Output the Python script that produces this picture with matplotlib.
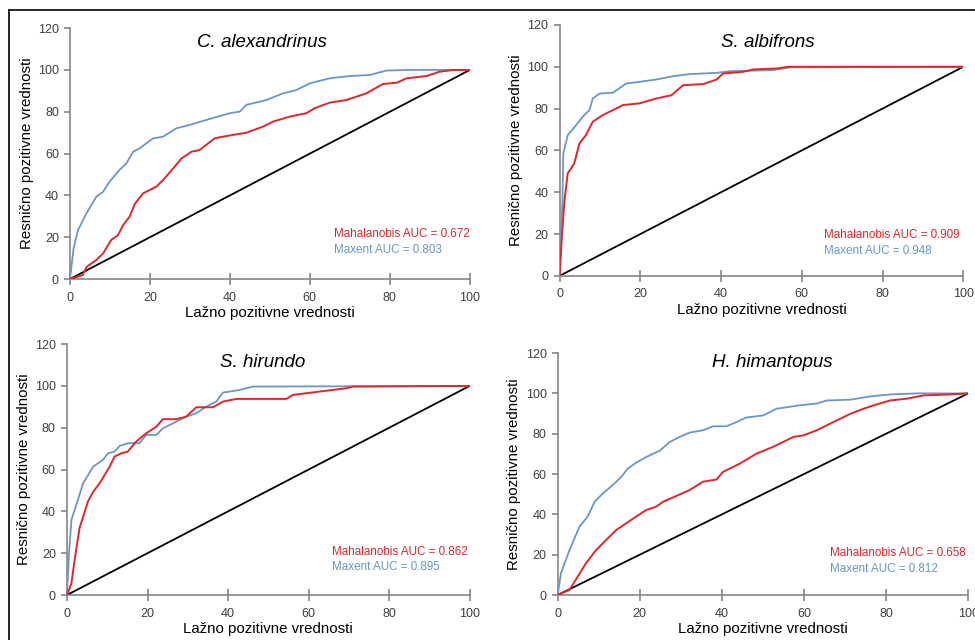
import matplotlib.pyplot as plt
from matplotlib.lines import Line2D

# podaci ocitani sa ROC krivih (x = lazno pozitivne, y = resnicno pozitivne)
diag = [0, 100]

calex_maxent_x = [0, 0.9, 2, 4.1, 6.6, 8.3, 9.9, 12.4, 14.1, 15.8, 17.4, 20.8, 23.3, 26.6, 29.9, 34.1,
                  39.9, 42.5, 44.1, 49.1, 53.3, 56.6, 60, 64.9, 69.9, 75, 79.1, 84.1, 100]
calex_maxent_y = [0, 14.7, 23.4, 31.4, 39.4, 41.8, 46.6, 52.2, 55.3, 60.9, 62.5, 67.3, 68.1, 72.1, 73.7, 76.1,
                  79.3, 80.1, 83.3, 85.6, 88.8, 90.4, 93.6, 96, 97.1, 97.6, 99.7, 100, 100]
calex_mahal_x = [0, 3.2, 4.2, 6.6, 8.3, 10.3, 12, 13.3, 14.9, 16.2, 18.3, 21.6, 23.3, 25.8, 27.9, 30.4, 32.4,
                 36.2, 39.1, 44.1, 48.3, 50.8, 55, 59.1, 61.2, 65, 69.1, 74.1, 78.3, 81.7, 84.2, 89.2, 92.5, 95.8, 100]
calex_mahal_y = [0, 1.9, 5.9, 9.1, 12.3, 18.7, 21, 25.8, 29.8, 35.9, 41, 44.2, 47.4, 52.9, 57.7, 60.9, 61.7,
                 67.3, 68.4, 70, 72.9, 75.3, 77.7, 79.3, 81.7, 84.4, 85.6, 88.8, 93.3, 93.9, 96, 97.1, 99.2, 100, 100]

salb_maxent_x = [0, 0.3, 0.7, 0.9, 2, 4.1, 5.7, 7.4, 8.2, 9.9, 13.2, 16.5, 19.8, 23.9, 28.1, 32.2, 38.9,
                 42.2, 47.1, 52.9, 57.1, 100]
salb_maxent_y = [0, 20.3, 36.2, 58.5, 67.3, 72.1, 76.1, 79.3, 84.8, 87.2, 87.6, 92, 92.8, 93.9, 95.5, 96.5, 97.1,
                 97.9, 98.1, 98.4, 99.7, 100]
salb_mahal_x = [0, 0.6, 1.2, 2, 3.6, 4.9, 6.5, 8.2, 10.7, 13.2, 15.7, 19.8, 23.9, 27.7, 30.6, 35.5, 38.9,
                40.5, 45.5, 47.9, 53.8, 56.7, 100]
salb_mahal_y = [0, 20.3, 36.2, 49, 53.7, 63.3, 67.3, 73.7, 76.9, 79.3, 81.7, 82.5, 84.8, 86.4, 91.2, 91.7, 93.9,
                96.8, 97.6, 98.7, 99.2, 100, 100]

shir_maxent_x = [0, 0.5, 1.1, 2.3, 4, 6.5, 8.9, 10.2, 11.8, 13.1, 15.1, 18, 19.7, 22.2, 23.8, 26.3, 29.6,
                 32.1, 34.6, 37.1, 38.7, 42.9, 46.2, 100]
shir_maxent_y = [0, 19.9, 35.9, 43.1, 53.4, 61.4, 64.6, 67.8, 68.6, 71.3, 72.6, 72.6, 76.6, 76.6, 79.7, 82.1, 85.3,
                 86.9, 90.1, 92.5, 96.8, 98.1, 99.7, 100]
shir_mahal_x = [0, 1.1, 1.9, 3.1, 5.2, 6.5, 8.1, 10.6, 11.8, 13.5, 15.1, 17.2, 19.7, 22.2, 23.8, 27.2, 29.6,
                32.1, 36.3, 38.7, 42.1, 54.5, 56.1, 62.7, 69.4, 71, 100]
shir_mahal_y = [0, 5.6, 16.7, 31.9, 44.7, 49.4, 53.4, 61.4, 66.2, 67.8, 68.6, 73.4, 77.4, 80.5, 84.1, 84.1, 85.3,
                89.8, 89.8, 92.5, 93.8, 93.8, 95.7, 97.3, 98.9, 99.7, 100]

hhim_maxent_x = [0, 0.8, 2.9, 5.3, 7.3, 9, 11, 13.4, 15.5, 17.1, 19.1, 21.6, 24.8, 27.3, 29.7, 32.2, 35.4,
                 37.9, 41.1, 43.6, 45.9, 50.1, 53.3, 59, 63.1, 65.6, 71.3, 76.1, 81, 87.5, 100]
hhim_maxent_y = [0, 10.9, 22.4, 33.9, 38.9, 46.3, 50.4, 54.5, 58.6, 62.8, 65.6, 68.5, 71.5, 75.9, 78.4, 80.6, 81.7,
                 83.7, 83.7, 85.8, 88, 89.1, 92.4, 94.1, 95, 96.5, 96.9, 98.5, 99.5, 100, 100]
hhim_mahal_x = [0, 2.9, 4.9, 6.9, 9.4, 11.8, 14.3, 16.7, 19.1, 21.6, 24, 25.7, 28.1, 32.2, 35.4, 38.7, 40.3,
                44.4, 48.5, 52.5, 54.9, 57.4, 59.9, 63.1, 67.2, 71.3, 74.5, 77.8, 81, 85.1, 89.1, 95.7, 100]
hhim_mahal_y = [0, 2.6, 9.2, 15.8, 22.4, 27.3, 32.3, 35.6, 38.9, 42.2, 43.8, 46.3, 48.4, 52.1, 56.2, 57.3, 61.1,
                65.2, 70.2, 73.5, 75.9, 78.4, 79.2, 81.7, 85.8, 89.9, 92.4, 94.6, 96.5, 97.4, 99, 99.5, 100]

naslovi = ['C. alexandrinus', 'S. albifrons', 'S. hirundo', 'H. himantopus']
auc_mahal = ['0.672', '0.909', '0.862', '0.658']
auc_maxent = ['0.803', '0.948', '0.895', '0.812']

paneli = [
    (calex_mahal_x, calex_mahal_y, calex_maxent_x, calex_maxent_y),
    (salb_mahal_x, salb_mahal_y, salb_maxent_x, salb_maxent_y),
    (shir_mahal_x, shir_mahal_y, shir_maxent_x, shir_maxent_y),
    (hhim_mahal_x, hhim_mahal_y, hhim_maxent_x, hhim_maxent_y),
]

# polozaj osa [levo, dole, sirina, visina] i naslova (u delovima ose)
pozicije = [
    [0.0718, 0.564, 0.410, 0.392],
    [0.574, 0.569, 0.414, 0.392],
    [0.0687, 0.0703, 0.413, 0.392],
    [0.572, 0.0703, 0.421, 0.378],
]
naslov_xy = [(0.48, 0.944), (0.516, 0.932), (0.486, 0.928), (0.524, 0.963)]
auc_x = [0.66, 0.655, 0.658, 0.663]
auc_y = [(0.179, 0.116), (0.163, 0.10), (0.171, 0.112), (0.174, 0.107)]

plt.rcParams['font.family'] = ['Liberation Sans', 'DejaVu Sans']

crvena = '#e0262c'
plava = '#6a96c8'
siva = '#868686'

fig = plt.figure(figsize=(9.75, 6.4), dpi=100)

for i, (mx, my, ex, ey) in enumerate(paneli):
    ax = fig.add_axes(pozicije[i])
    ax.plot(diag, diag, color='black', lw=1.3, zorder=2)
    ax.plot(ex, ey, color=plava, lw=1.3, zorder=3)
    ax.plot(mx, my, color=crvena, lw=1.4, zorder=4)
    ax.set_xlim(0, 100)
    ax.set_ylim(0, 120)
    ax.set_xticks([0, 20, 40, 60, 80, 100])
    ax.set_yticks([0, 20, 40, 60, 80, 100, 120])
    for s in ['top', 'right']:
        ax.spines[s].set_visible(False)
    for s in ['left', 'bottom']:
        ax.spines[s].set_color(siva)
        ax.spines[s].set_linewidth(1.2)
    ax.tick_params(axis='x', direction='inout', length=8, width=1.2, color=siva,
                   labelsize=9, labelcolor='#404040', pad=5)
    ax.tick_params(axis='y', direction='out', length=4, width=1.2, color=siva,
                   labelsize=9, labelcolor='#404040', pad=4)
    ax.set_xlabel('Lažno pozitivne vrednosti', fontsize=10.8, labelpad=2)
    ax.set_ylabel('Resnično pozitivne vrednosti', fontsize=10.8, labelpad=3)
    ax.text(naslov_xy[i][0], naslov_xy[i][1], naslovi[i], transform=ax.transAxes,
            ha='center', va='center', fontsize=13.5, style='italic')
    ax.text(auc_x[i], auc_y[i][0], 'Mahalanobis AUC = ' + auc_mahal[i], transform=ax.transAxes,
            ha='left', va='center', fontsize=8.4, color=crvena)
    ax.text(auc_x[i], auc_y[i][1], 'Maxent AUC = ' + auc_maxent[i], transform=ax.transAxes,
            ha='left', va='center', fontsize=8.4, color=plava)

# okvir slike (levo i gore)
fig.add_artist(Line2D([0.0092, 0.0092], [0, 0.984], color='black', lw=1.2))
fig.add_artist(Line2D([0.0092, 1], [0.984, 0.984], color='black', lw=1.2))

fig.savefig('out.png', dpi=100)
